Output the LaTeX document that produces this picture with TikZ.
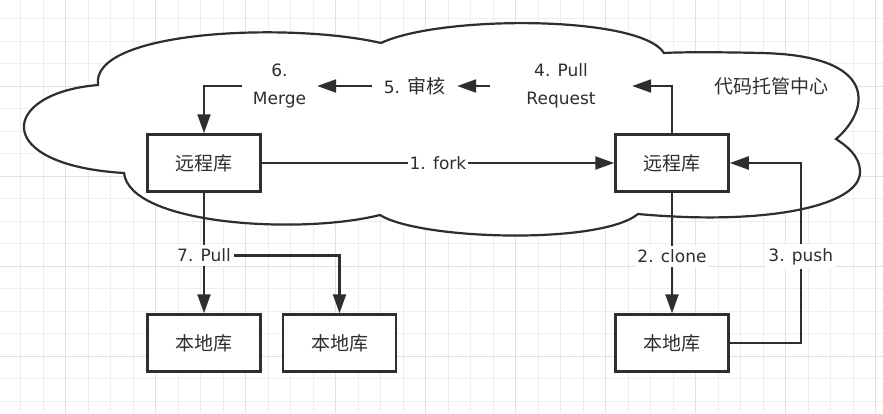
\documentclass[tikz,border=0pt]{standalone}
\usepackage{fontspec}
\setmainfont{DejaVu Sans}
\newfontfamily\cjkfont{Noto Sans CJK SC}
\usetikzlibrary{arrows.meta}
\definecolor{ink}{HTML}{2E2E2E}
\definecolor{gridminor}{HTML}{EEEEEE}
\definecolor{gridmajor}{HTML}{E0E0E0}
\newcommand{\zhtext}[1]{{\cjkfont\fontsize{19}{28}\selectfont #1}}

\begin{document}
\begin{tikzpicture}[x=1pt, y=-1pt]
    % Define styles
    \tikzstyle{repo} = [draw=ink, line width=2.5pt, fill=white, minimum width=113pt, minimum height=57pt, inner sep=0pt, text=ink]
    \tikzstyle{lbl} = [inner sep=0pt, align=center, text=ink, font=\fontsize{17}{28}\selectfont]
    \tikzstyle{tag} = [fill=white, inner xsep=2pt, inner ysep=4pt, text=ink, font=\fontsize{17}{20}\selectfont]
    \tikzstyle{arr} = [draw=ink, line width=2.2pt, -{Triangle[length=19pt,width=13pt]}]

    \useasboundingbox (0,0) rectangle (883,413);
    \fill[white] (0,0) rectangle (883,413);

    % Background grid
    \foreach \i in {0,...,38} \draw[gridminor, line width=1pt] ({20.7+22.5*\i},0) -- ++(0,413);
    \foreach \i in {0,...,17} \draw[gridminor, line width=1pt] (0,{18.7+22.5*\i}) -- ++(883,0);
    \foreach \i in {0,...,9} \draw[gridmajor, line width=1pt] ({65.7+90*\i},0) -- ++(0,413);
    \foreach \i in {0,...,3} \draw[gridmajor, line width=1pt] (0,{86.2+90*\i}) -- ++(883,0);

    % Hosting cloud
    \draw[ink, line width=2.2pt, fill=white] (98,85) .. controls (0,93) and (-10,165) .. (124,173)
        .. controls (130,225) and (300,235) .. (380,215)
        .. controls (420,240) and (600,245) .. (638,214)
        .. controls (770,226) and (860,205) .. (860,172)
        .. controls (860,155) and (845,145) .. (836,139)
        .. controls (870,110) and (880,55) .. (760,53)
        .. controls (720,52) and (680,52) .. (664,53)
        .. controls (640,15) and (440,15) .. (381,43)
        .. controls (290,22) and (90,30) .. (98,85) -- cycle;
    \node[lbl] (hub) at (771,86) {\zhtext{代码托管中心}};

    % Repositories
    \node[repo] (remoteL) at (204,163) {\zhtext{远程库}};
    \node[repo] (remoteR) at (672,163) {\zhtext{远程库}};
    \node[repo] (localA) at (204,343) {\zhtext{本地库}};
    \node[repo] (localB) at (339.5,343) {\zhtext{本地库}};
    \node[repo] (localR) at (672,343) {\zhtext{本地库}};

    % Step labels
    \node[lbl, minimum width=75pt] (merge) at (279.5,86) {6.\\Merge};
    \node[lbl, minimum width=85pt] (audit) at (414.5,86) {5. \zhtext{审核}};
    \node[lbl, minimum width=142pt] (pr) at (561,86) {4. Pull\\Request};

    % Flow arrows
    \draw[arr] (remoteL) -- node[tag] {1. fork} (remoteR);
    \draw[arr] (remoteR) -- node[tag, pos=0.53] {2. clone} (localR);
    \draw[arr] (localR.east) -- ++(71,0) |- node[tag, pos=0.24] {3. push} (remoteR.east);
    \draw[arr] (remoteR.north) |- (pr.east);
    \draw[arr] (pr.west) -- (audit.east);
    \draw[arr] (audit.west) -- (merge.east);
    \draw[arr] (merge.west) -| (remoteL.north);
    \draw[arr] (remoteL) -- node[tag, pos=0.52] (pull) {7. Pull} (localA);
    \draw[arr] (pull.east) -| (localB.north);
\end{tikzpicture}
\end{document}
